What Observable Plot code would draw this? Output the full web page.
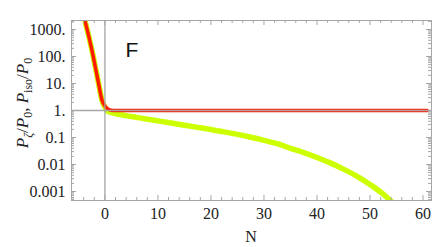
<!DOCTYPE html>
<html><head><meta charset="utf-8">
<script src="https://cdn.jsdelivr.net/npm/d3@7"></script>
<script src="https://cdn.jsdelivr.net/npm/@observablehq/plot@0.6"></script>
<style>body{margin:0;background:#fff} svg{display:block}</style>
</head><body><div id="chart"></div>
<script>
// Red curve: P_iso/P_0
const redN = [-4.0, -3.75, -3.0, -2.43, -1.8, -1.18, -0.53, 0.0, 0.3, 0.7, 1.2, 2.0, 5.0, 20, 40, 60.8];
const redP = [3500, 2100, 525, 166, 40, 9.7, 2.35, 1.48, 1.25, 1.1, 1.03, 1.01, 1.0, 1.0, 1.0, 1.0];
// Yellow curve: P_zeta/P_0
const yelN = [-4.0, -3.75, -3.0, -2.43, -1.8, -1.18, -0.53, 0.0, 0.4, 1.0, 2.0, 3.0, 5.0, 7.5, 10, 12.5, 15, 17.5, 20, 22.5, 25, 27.5, 30, 32.5, 35, 37.5, 40, 42.5, 45, 47.5, 50, 52.5, 53.8, 54.5];
const yelP = [3500, 2100, 525, 166, 40, 9.7, 2.3, 1.35, 1.0, 0.871, 0.776, 0.700, 0.596, 0.495, 0.412, 0.343, 0.285, 0.237, 0.197, 0.162, 0.130, 0.102, 0.0785, 0.0589, 0.0398, 0.0275, 0.0182, 0.0115, 0.00676, 0.00372, 0.00182, 0.000794, 0.000468, 0.000355];

const xTicks = [0, 10, 20, 30, 40, 50, 60];
const xTickLabels = ["0", "10", "20", "30", "40", "50", "60"];
const xMinor = [-6, -4, -2, 2, 4, 6, 8, 12, 14, 16, 18, 22, 24, 26, 28, 32, 34, 36, 38, 42, 44, 46, 48, 52, 54, 56, 58];
const yTicks = [0.001, 0.01, 0.1, 1, 10, 100, 1000];
const yTickLabels = ["0.001", "0.01", "0.1", "1.", "10.", "100.", "1000."];
const yMinorMult = [2, 3, 4, 5, 6, 7, 8, 9];
const yDecades = [0.0001, 0.001, 0.01, 0.1, 1, 10, 100, 1000];

const yMinor = [];
for (const d of yDecades) for (const m of yMinorMult) {
  const v = m * d;
  if (v > 4.7e-4 && v < 2150) yMinor.push(v);
}
const red = redN.map((n, i) => ({n, p: redP[i]}));
const yel = yelN.map((n, i) => ({n, p: yelP[i]}));
const yLab = new Map(yTicks.map((v, i) => [v, yTickLabels[i]]));
const xLab = new Map(xTicks.map((v, i) => [v, xTickLabels[i]]));

const W = 436, H = 247, mt = 20, mb = 47, ml = 71, mr = 5;
const pw = W - ml - mr, ph = H - mt - mb;
const grey = "#a6a6a6";

const chart = Plot.plot({
  width: W, height: H,
  marginTop: mt, marginBottom: mb, marginLeft: ml, marginRight: mr,
  style: {fontFamily: "'Liberation Serif', 'Times New Roman', serif", fontSize: "16px", background: "#fff", color: "#222"},
  x: {domain: [-6.3, 61.6], axis: null},
  y: {type: "log", domain: [Math.pow(10, -3.333), Math.pow(10, 3.333)], axis: null},
  marks: [
    Plot.line(yel, {x: "n", y: "p", stroke: "#ccff00", strokeWidth: 5.5, curve: "monotone-x", clip: true}),
    Plot.line(red, {x: "n", y: "p", stroke: "#ff1a00", strokeWidth: 3.5, curve: "monotone-x", clip: true}),
    Plot.ruleX([0], {stroke: grey, strokeWidth: 1.3}),
    Plot.ruleY([1], {stroke: grey, strokeWidth: 1.3}),
    Plot.frame({stroke: grey, strokeWidth: 1}),
    // inward ticks
    Plot.tickX(xTicks, {x: d => d, stroke: grey, insetTop: ph - 5}),
    Plot.tickX(xTicks, {x: d => d, stroke: grey, insetBottom: ph - 5}),
    Plot.tickX(xMinor, {x: d => d, stroke: grey, insetTop: ph - 3}),
    Plot.tickX(xMinor, {x: d => d, stroke: grey, insetBottom: ph - 3}),
    Plot.tickY(yTicks, {y: d => d, stroke: grey, insetRight: pw - 5}),
    Plot.tickY(yTicks, {y: d => d, stroke: grey, insetLeft: pw - 5}),
    Plot.tickY(yMinor, {y: d => d, stroke: grey, insetRight: pw - 3}),
    Plot.tickY(yMinor, {y: d => d, stroke: grey, insetLeft: pw - 3}),
    // tick labels
    Plot.axisX({ticks: xTicks, tickFormat: d => xLab.get(d), tickSize: 0, tickPadding: 7, label: null, fontSize: 16}),
    Plot.axisY({ticks: yTicks, tickFormat: d => yLab.get(d), tickSize: 0, tickPadding: 6, label: null, fontSize: 16}),
    Plot.text(["F"], {frameAnchor: "top-left", dx: 54, dy: 22, fontFamily: "'Liberation Sans', Arial, sans-serif", fontSize: 21, fill: "#111", textAnchor: "start"})
  ]
});
document.getElementById("chart").appendChild(chart);

const svg = d3.select(chart);
svg.append("text")
  .attr("x", ml + pw / 2).attr("y", 242)
  .attr("text-anchor", "middle")
  .style("font-family", "'Liberation Serif', 'Times New Roman', serif")
  .style("font-size", "16px").attr("fill", "#222")
  .text("N");

const yl = svg.append("text")
  .attr("transform", "translate(28,103) rotate(-90)")
  .attr("text-anchor", "middle")
  .style("font-family", "'Liberation Serif', 'Times New Roman', serif")
  .style("font-size", "17px").attr("fill", "#222");
const parts = [["P", "italic", 0], ["ζ", "italic", 1], ["/", "normal", 0], ["P", "italic", 0], ["0", "normal", 1],
  [", ", "normal", 0], ["P", "italic", 0], ["iso", "normal", 1], ["/", "normal", 0], ["P", "italic", 0], ["0", "normal", 1]];
let prevSub = 0;
for (const [t, st, sub] of parts) {
  const ts = yl.append("tspan").text(t).style("font-style", st);
  if (sub) ts.style("font-size", "12px");
  const dy = (sub ? 4 : 0) - (prevSub ? 4 : 0);
  if (dy) ts.attr("dy", dy);
  prevSub = sub;
}
</script>
</body></html>
